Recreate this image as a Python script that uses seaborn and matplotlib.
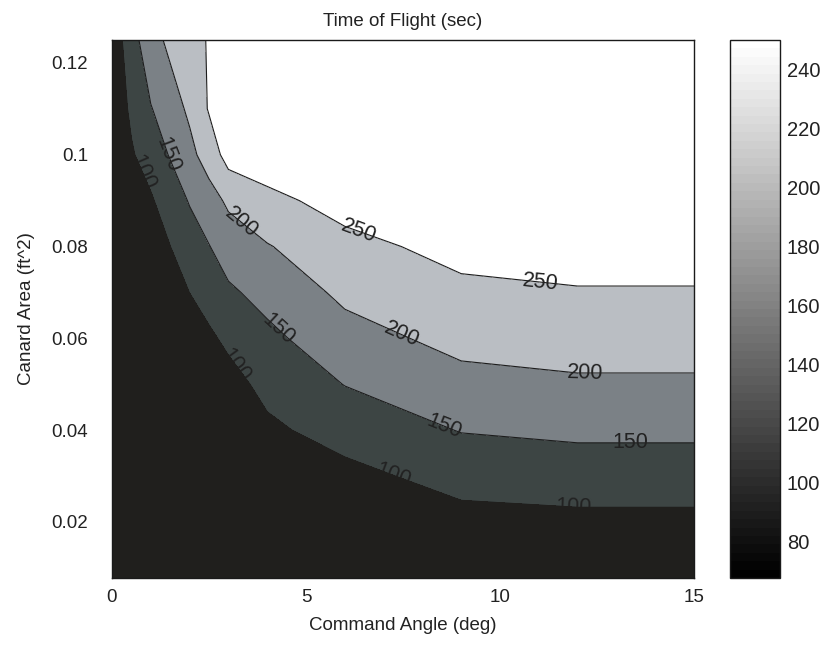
import numpy as np
import matplotlib
matplotlib.use("Agg")
import matplotlib.pyplot as plt
import seaborn as sns
from matplotlib.colors import ListedColormap, Normalize
from matplotlib.cm import ScalarMappable

# ---------------- data ----------------
command_angle = [0, 0.5, 1, 2, 2.5, 3, 4, 6, 9, 12, 15]            # deg
canard_area = [0.0078, 0.02, 0.03, 0.04, 0.05, 0.06, 0.07, 0.08,
               0.09, 0.10, 0.11, 0.125]                               # ft^2
# time of flight (sec); one row per canard area, one column per command angle
tof_0078 = [67.6, 67.6, 67.6, 67.6, 67.6, 67.6, 67.6, 67.6, 67.6, 67.6, 67.6]
tof_0200 = [67.6, 67.6, 67.6, 67.6, 67.6, 67.6, 67.6, 67.6, 84.0, 88.5, 88.5]
tof_0300 = [67.6, 67.6, 67.6, 67.6, 67.6, 67.6, 70.2, 86.2, 118.0, 124.5, 124.5]
tof_0400 = [67.6, 67.6, 67.6, 67.6, 67.6, 67.6, 90.9, 119.4, 152.0, 159.7, 159.7]
tof_0500 = [67.6, 67.6, 67.6, 67.6, 67.6, 82.8, 113.7, 151.2, 185.3, 193.3, 193.3]
tof_0600 = [67.6, 67.6, 67.6, 80.2, 92.0, 110.0, 138.2, 181.9, 214.2, 220.6, 220.6]
tof_0700 = [67.6, 67.6, 67.6, 100.3, 119.5, 142.3, 166.0, 210.4, 239.6, 246.4, 246.4]
tof_0800 = [67.6, 70.6, 72.9, 126.4, 148.3, 173.5, 196.9, 235.8, 265.0, 272.2, 272.2]
tof_0900 = [67.6, 83.1, 94.9, 153.3, 180.1, 208.5, 237.2, 268.0, 290.0, 298.0, 298.0]
tof_1000 = [67.6, 95.6, 120.6, 186.7, 222.1, 269.5, 278.5, 288.0, 300.0, 300.0, 300.0]
tof_1100 = [68.0, 108.1, 147.3, 208.6, 254.0, 280.0, 290.0, 300.0, 300.0, 300.0, 300.0]
tof_1250 = [70.0, 126.9, 186.0, 230.1, 254.0, 280.0, 290.0, 300.0, 300.0, 300.0, 300.0]

contour_levels = [100, 150, 200, 250]
colorbar_range = [67.6, 250.1]
colorbar_ticks = [80, 100, 120, 140, 160, 180, 200, 220, 240]
x_ticks = [0, 5, 10, 15]
y_ticks = [0.02, 0.04, 0.06, 0.08, 0.1, 0.12]
y_tick_labels = ["0.02", "0.04", "0.06", "0.08", "0.1", "0.12"]

# where the in-plot contour labels sit (level label placement)
label_spots = [(0.85, 0.0965), (1.45, 0.1000), (3.38, 0.0859), (6.35, 0.0830),
               (3.21, 0.0543), (4.24, 0.0616), (7.42, 0.0597),
               (7.21, 0.0296), (8.54, 0.0405),
               (11.03, 0.0717), (12.19, 0.0517), (13.35, 0.0369), (11.89, 0.0234)]

band_colors = ["#201f1d", "#3d4544", "#7b8186", "#babec3", "#ffffff"]

# ---------------- figure ----------------
sns.set_style("white")
plt.rcParams["font.family"] = ["Liberation Sans", "DejaVu Sans"]

Z = np.array([tof_0078, tof_0200, tof_0300, tof_0400, tof_0500, tof_0600,
              tof_0700, tof_0800, tof_0900, tof_1000, tof_1100, tof_1250])
X, Y = np.meshgrid(command_angle, canard_area)

fig = plt.figure(figsize=(8.27, 6.52), dpi=100)
ax = fig.add_axes([0.1354, 0.1135, 0.7038, 0.8252])

fill_levels = [Z.min() - 1] + contour_levels + [Z.max() + 1]
cf = ax.contourf(X, Y, Z, levels=fill_levels, colors=band_colors)
cf.set_zorder(1)
cl = ax.contour(X, Y, Z, levels=contour_levels, colors="#1c1c1c",
                linewidths=0.8)
cl.set_zorder(2)
texts = ax.clabel(cl, inline=False, manual=label_spots, fontsize=15.5,
                  colors="#222222", fmt="%d")
for t in texts:
    t.set_zorder(3)
# lowest band drawn over the labels (as in the original rendering)
cover = ax.contourf(X, Y, Z, levels=[Z.min() - 1, contour_levels[0]],
                    colors=[band_colors[0]])
cover.set_zorder(4)

ax.set_xlim(0, 15)
ax.set_ylim(canard_area[0], canard_area[-1])
ax.set_xticks(x_ticks)
ax.set_xticklabels([str(t) for t in x_ticks])
ax.set_yticks(y_ticks)
ax.set_yticklabels(y_tick_labels)
ax.tick_params(direction="in", length=5, labelsize=13.5,
               colors="#222222", labelcolor="#222222")
ax.tick_params(axis="x", pad=8)
ax.tick_params(axis="y", pad=17)
for s in ax.spines.values():
    s.set_color("#1a1a1a")
    s.set_linewidth(1.0)
    s.set_zorder(6)

ax.set_title("Time of Flight (sec)", fontsize=13.5, color="#222222", pad=10)
ax.set_xlabel("Command Angle (deg)", fontsize=13.5, color="#222222", labelpad=8)
ax.set_ylabel("Canard Area (ft^2)", fontsize=13.5, color="#222222", labelpad=12)

# colorbar (MATLAB-like 64-step gray)
cax = fig.add_axes([0.8827, 0.1135, 0.0605, 0.8252])
gray64 = ListedColormap(plt.cm.gray(np.linspace(0, 1, 64)))
sm = ScalarMappable(norm=Normalize(*colorbar_range), cmap=gray64)
cb = fig.colorbar(sm, cax=cax, ticks=colorbar_ticks)
cb.outline.set_edgecolor("#1a1a1a")
cb.outline.set_linewidth(1.0)
cax.tick_params(direction="in", length=5, left=True, right=True,
                labelsize=14.5, colors="#222222", labelcolor="#222222", pad=5)

fig.savefig("out.png", dpi=100, facecolor="white")
